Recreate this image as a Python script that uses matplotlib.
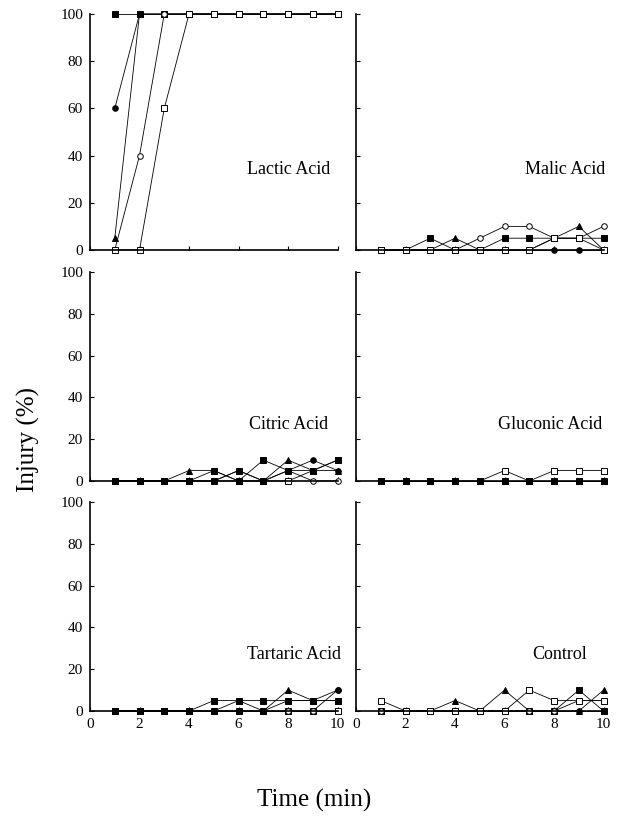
# Injury (%) over time for each acid treatment, six panels

import matplotlib
matplotlib.use('Agg')
import matplotlib.pyplot as plt

# Data: time points and injury (%) for the five series in each panel
time = [1, 2, 3, 4, 5, 6, 7, 8, 9, 10]
series_names = ['filled_circle', 'filled_square', 'filled_triangle', 'open_circle', 'open_square']

lactic_fc = [60, 100, 100, 100, 100, 100, 100, 100, 100, 100]
lactic_fs = [100, 100, 100, 100, 100, 100, 100, 100, 100, 100]
lactic_ft = [5, 100, 100, 100, 100, 100, 100, 100, 100, 100]
lactic_oc = [0, 40, 100, 100, 100, 100, 100, 100, 100, 100]
lactic_os = [0, 0, 60, 100, 100, 100, 100, 100, 100, 100]

malic_fc = [0, 0, 0, 0, 0, 0, 0, 0, 0, 0]
malic_fs = [0, 0, 5, 0, 0, 5, 5, 5, 5, 5]
malic_ft = [0, 0, 0, 5, 0, 0, 0, 5, 10, 0]
malic_oc = [0, 0, 0, 0, 5, 10, 10, 5, 5, 10]
malic_os = [0, 0, 0, 0, 0, 0, 0, 5, 5, 0]

citric_fc = [0, 0, 0, 0, 0, 5, 0, 5, 10, 5]
citric_fs = [0, 0, 0, 0, 5, 0, 10, 5, 5, 10]
citric_ft = [0, 0, 0, 5, 5, 0, 0, 10, 5, 5]
citric_oc = [0, 0, 0, 0, 0, 0, 0, 5, 0, 0]
citric_os = [0, 0, 0, 0, 0, 5, 0, 0, 5, 10]

gluconic_fc = [0, 0, 0, 0, 0, 0, 0, 0, 0, 0]
gluconic_fs = [0, 0, 0, 0, 0, 0, 0, 0, 0, 0]
gluconic_ft = [0, 0, 0, 0, 0, 0, 0, 0, 0, 0]
gluconic_oc = [0, 0, 0, 0, 0, 0, 0, 0, 0, 0]
gluconic_os = [0, 0, 0, 0, 0, 5, 0, 5, 5, 5]

tartaric_fc = [0, 0, 0, 0, 0, 0, 0, 5, 5, 10]
tartaric_fs = [0, 0, 0, 0, 5, 5, 5, 5, 5, 5]
tartaric_ft = [0, 0, 0, 0, 0, 5, 0, 10, 5, 5]
tartaric_oc = [0, 0, 0, 0, 0, 0, 0, 0, 0, 10]
tartaric_os = [0, 0, 0, 0, 0, 0, 0, 0, 0, 0]

control_fc = [0, 0, 0, 0, 0, 0, 0, 0, 0, 0]
control_fs = [0, 0, 0, 0, 0, 0, 0, 0, 10, 0]
control_ft = [0, 0, 0, 5, 0, 10, 0, 0, 0, 10]
control_oc = [0, 0, 0, 0, 0, 0, 0, 0, 5, 5]
control_os = [5, 0, 0, 0, 0, 0, 10, 5, 5, 5]

panel_titles = ['Lactic Acid', 'Malic Acid', 'Citric Acid',
                'Gluconic Acid', 'Tartaric Acid', 'Control']
panel_data = [
    [lactic_fc, lactic_fs, lactic_ft, lactic_oc, lactic_os],
    [malic_fc, malic_fs, malic_ft, malic_oc, malic_os],
    [citric_fc, citric_fs, citric_ft, citric_oc, citric_os],
    [gluconic_fc, gluconic_fs, gluconic_ft, gluconic_oc, gluconic_os],
    [tartaric_fc, tartaric_fs, tartaric_ft, tartaric_oc, tartaric_os],
    [control_fc, control_fs, control_ft, control_oc, control_os],
]
x_ticks = [0, 2, 4, 6, 8, 10]
y_ticks = [0, 20, 40, 60, 80, 100]

plt.rcParams['font.family'] = ['Liberation Serif', 'DejaVu Serif']

# marker style per series
styles = {
    'filled_circle': dict(marker='o', mfc='black'),
    'filled_square': dict(marker='s', mfc='black'),
    'filled_triangle': dict(marker='^', mfc='black'),
    'open_circle': dict(marker='o', mfc='white'),
    'open_square': dict(marker='s', mfc='white'),
}
# which panels show open symbols on top of the filled ones
open_on_top = [True, True, False, False, False, True]

fig = plt.figure(figsize=(6.29, 8.38), dpi=100)

W, H = 629, 838
col_left = [90, 356]
col_width = 255
# (pixel row of 100, pixel row of 0) for each row of panels
rows = [(14, 250), (272, 481), (502, 711)]
title_x = [0.78, 0.82, 0.78, 0.76, 0.80, 0.80]
title_y = [0.34, 0.34, 0.27, 0.27, 0.27, 0.27]

for i in range(6):
    r, c = divmod(i, 2)
    top, bot = rows[r]
    ax = fig.add_axes([col_left[c] / W, 1 - bot / H, col_width / W, (bot - top) / H])
    order = list(zip(series_names, panel_data[i]))
    if not open_on_top[i]:
        order = order[::-1]
    for name, vals in order:
        ax.plot(time, vals, color='black', lw=0.6, ms=4, mec='black',
                mew=0.7, clip_on=False, **styles[name])
    ax.set_xlim(0, 10.3)
    ax.set_ylim(0, 100)
    ax.set_xticks(x_ticks)
    ax.set_yticks(y_ticks)
    ax.spines['top'].set_visible(False)
    ax.spines['right'].set_visible(False)
    ax.spines['bottom'].set_bounds(0, 10)
    ax.spines['left'].set_linewidth(1.2)
    ax.spines['bottom'].set_linewidth(1.2)
    ax.tick_params(direction='in', length=3, width=0.8, labelsize=11, pad=5)
    if c == 1:
        ax.tick_params(labelleft=False)
    if r < 2:
        ax.tick_params(labelbottom=False)
    ax.text(title_x[i], title_y[i], panel_titles[i], ha='center',
            va='center', fontsize=13, transform=ax.transAxes)

fig.text(0.045, 0.475, 'Injury (%)', rotation=90, ha='center', va='center', fontsize=18)
fig.text(0.5, 0.045, 'Time (min)', ha='center', va='center', fontsize=18)

fig.savefig('out.png', dpi=100)
